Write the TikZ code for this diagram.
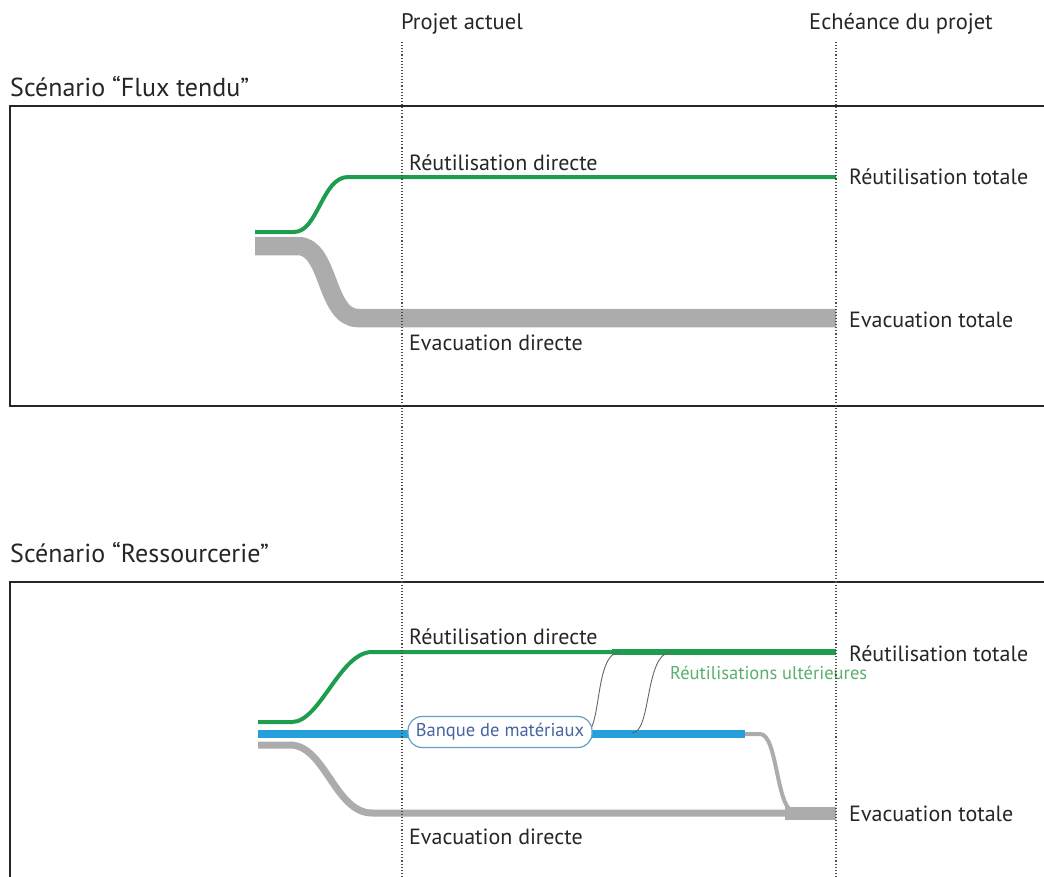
\documentclass[tikz,border=0pt]{standalone}
\usepackage{fontspec}
\setmainfont{PT Sans}
\definecolor{flowgreen}{RGB}{28,158,78}
\definecolor{lightgreen}{RGB}{90,175,110}
\definecolor{flowgray}{RGB}{172,172,172}
\definecolor{flowblue}{RGB}{38,160,220}
\definecolor{bankborder}{RGB}{100,160,195}
\definecolor{banktext}{RGB}{70,100,160}
\tikzset{
  lbl/.style={anchor=west, inner sep=0pt, font=\fontsize{22}{24}\selectfont, text=black!85},
  toplbl/.style={anchor=west, inner sep=0pt, font=\fontsize{22.5}{24}\selectfont, text=black!85},
  ttl/.style={anchor=west, inner sep=0pt, font=\fontsize{26}{28}\selectfont, text=black!85},
  timeline/.style={line width=1.1pt, black!70, dash pattern=on 1.1pt off 2pt},
  frame/.style={draw=black!85, line width=1.1pt},
  greenflow/.style={flowgreen, line width=4pt},
  grayflow/.style={flowgray, line width=#1},
  thin/.style={black!60, line width=0.9pt},
}
\begin{document}
\begin{tikzpicture}[x=1pt,y=-1pt]
\useasboundingbox (0,0) rectangle (1044,876);
\clip (0,0) rectangle (1044,876);
% frames
\draw[frame] (10,106) rectangle (1060,406);
\draw[frame] (10,582) rectangle (1060,900);
% titles
\node[toplbl] (pa) at (401,24) {Projet actuel};
\node[toplbl] (ep) at (809,24) {Echéance du projet};
\node[ttl] (t1) at (10,87) {Scénario “Flux tendu”};
\node[ttl] (t2) at (10,553) {Scénario “Ressourcerie”};
% timelines
\coordinate (pa0) at (402,42);
\coordinate (pa1) at (402,876);
\coordinate (ep0) at (836,42);
\coordinate (ep1) at (836,876);
% ---- Flux tendu ----
\draw[grayflow=18.5pt] (255,246) -- (298,246) .. controls (330,246) and (325,318) .. (358,318) -- (836,318);
\draw[greenflow] (255,232) -- (294,232) .. controls (318,232) and (322,177) .. (348,177) -- (836,177);
\node[lbl] (rd1) at (409,163) {Réutilisation directe};
\node[lbl] (ed1) at (409,343) {Evacuation directe};
\node[lbl] (rt1) at (849,177) {Réutilisation totale};
\node[lbl] (et1) at (849,320) {Evacuation totale};
% ---- Ressourcerie ----
\draw[grayflow=7pt] (258,745) -- (290,745) .. controls (325,745) and (335,813) .. (372,813) -- (836,813);
\draw[grayflow=13pt] (785,813) -- (836,813);
\draw[grayflow=4pt] (742,734) -- (760,734) .. controls (778,734) and (776,812) .. (795,812);
\draw[flowblue, line width=8pt] (258,734) -- (745,734);
\draw[greenflow] (258,722) -- (292,722) .. controls (320,722) and (340,652) .. (372,652) -- (616,652);
\draw[flowgreen, line width=6.5pt] (612,652) -- (836,652);
\draw[thin] (585,733) .. controls (602,733) and (594,652) .. (620,652);
\draw[thin] (632,733) .. controls (652,733) and (644,652) .. (672,652);
\node[draw=bankborder, line width=1.2pt, fill=white, rounded corners=14pt, minimum width=184pt, minimum height=31pt, inner sep=0pt, text=banktext, font=\fontsize{18.5}{20}\selectfont] (bank) at (500,732) {Banque de matériaux};
\node[lbl] (rd2) at (409,637) {Réutilisation directe};
\node[lbl] (ed2) at (409,837) {Evacuation directe};
\node[lbl] (rt2) at (849,654) {Réutilisation totale};
\node[lbl] (et2) at (849,814) {Evacuation totale};
\node[anchor=west, inner sep=0pt, text=lightgreen, font=\fontsize{18.5}{20}\selectfont] (ru) at (670,673) {Réutilisations ultérieures};
% timelines on top
\draw[timeline] (pa0) -- (pa1);
\draw[timeline] (ep0) -- (ep1);
\end{tikzpicture}
\end{document}
